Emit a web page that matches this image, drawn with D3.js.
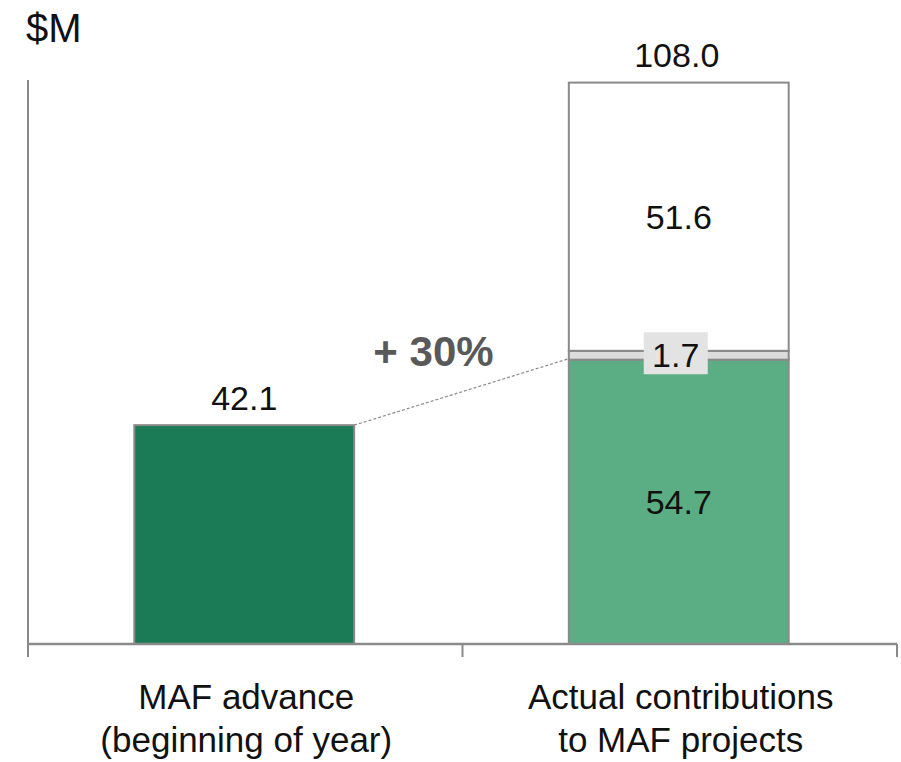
<!DOCTYPE html>
<html>
<head>
<meta charset="utf-8">
<script src="https://cdn.jsdelivr.net/npm/d3@7"></script>
<style>
  html, body { margin: 0; padding: 0; background: #fff; }
  svg { display: block; font-family: "Liberation Sans", Arial, sans-serif; }
</style>
</head>
<body>
<svg id="chart" width="901" height="762"></svg>
<script>
// Categories and their two-line axis labels
const categories = ["advance", "actual"];
const categoryLabels = [
  ["MAF advance", "(beginning of year)"],
  ["Actual contributions", "to MAF projects"]
];

// Single bar: MAF advance
const advanceValue = 42.1;

// Stacked bar: actual contributions, bottom to top
const stackNames = ["core", "other", "rest"];
const stackValues = [54.7, 1.7, 51.6];
const stackTotal = 108.0;

const growthLabel = "+ 30%";
const unitLabel = "$M";

const W = 901, H = 762;
const left = 28, right = 897, baseline = 644, axisTop = 80;

const svg = d3.select("#chart");

const x = d3.scaleBand().domain(categories).range([left, right]).paddingInner(0).paddingOuter(0);
const y = d3.scaleLinear().domain([0, 108.5]).range([baseline, axisTop]);

const barFrac = 0.506;
const barW = x.bandwidth() * barFrac;
const barX = c => x(c) + (x.bandwidth() - barW) / 2 - 1;

const strokeCol = "#8a8a8a";

// Y axis line (no ticks)
svg.append("line")
  .attr("x1", left).attr("x2", left)
  .attr("y1", y.range()[1]).attr("y2", baseline)
  .attr("stroke", strokeCol).attr("stroke-width", 2);

// Advance bar
svg.append("rect")
  .attr("x", barX("advance"))
  .attr("y", y(advanceValue))
  .attr("width", barW)
  .attr("height", baseline - y(advanceValue))
  .attr("fill", "#1a7b56")
  .attr("stroke", strokeCol).attr("stroke-width", 2);

// Stacked bar
const stackFill = { core: "#5bae83", other: "#dcdcdc", rest: "#ffffff" };
const stackData = [];
let acc = 0;
stackValues.forEach((v, i) => { stackData.push({ name: stackNames[i], v, y0: acc, y1: acc + v }); acc += v; });

svg.append("g").selectAll("rect")
  .data(stackData)
  .join("rect")
  .attr("x", barX("actual"))
  .attr("y", d => y(d.y1))
  .attr("width", barW)
  .attr("height", d => y(d.y0) - y(d.y1))
  .attr("fill", d => stackFill[d.name])
  .attr("stroke", strokeCol).attr("stroke-width", 2);

// X axis with boundary ticks
svg.append("line")
  .attr("x1", left).attr("x2", right)
  .attr("y1", baseline).attr("y2", baseline)
  .attr("stroke", strokeCol).attr("stroke-width", 2.5);

const tickXs = categories.map(c => x(c)).concat([x(categories[categories.length - 1]) + x.bandwidth()]);
svg.append("g").selectAll("line")
  .data(tickXs)
  .join("line")
  .attr("x1", d => d).attr("x2", d => d)
  .attr("y1", baseline).attr("y2", baseline + 13)
  .attr("stroke", strokeCol).attr("stroke-width", 2);

// Category labels
categories.forEach((c, i) => {
  const cx = barX(c) + barW / 2 + 2;
  const t = svg.append("text")
    .attr("text-anchor", "middle")
    .attr("font-size", 35)
    .attr("fill", "#111");
  categoryLabels[i].forEach((line, j) => {
    t.append("tspan").attr("x", cx).attr("y", 709 + j * 43).text(line);
  });
});

// Value labels
const fmt = d3.format(".1f");
const cx1 = barX("advance") + barW / 2;
const cx2 = barX("actual") + barW / 2;

svg.append("text")
  .attr("x", cx1).attr("y", y(advanceValue) - 15)
  .attr("text-anchor", "middle").attr("font-size", 34).attr("fill", "#111")
  .text(fmt(advanceValue));

svg.append("text")
  .attr("x", cx2 - 2).attr("y", y(stackTotal) - 16)
  .attr("text-anchor", "middle").attr("font-size", 34).attr("fill", "#111")
  .text(fmt(stackTotal));

// Segment labels: the big segments centered, the thin one in a boxed callout
stackData.forEach(d => {
  const my = (y(d.y0) + y(d.y1)) / 2;
  if (d.name === "other") {
    svg.append("rect")
      .attr("x", cx2 - 35).attr("y", my - 23)
      .attr("width", 64).attr("height", 42)
      .attr("fill", "#e3e3e3");
    svg.append("text")
      .attr("x", cx2 - 3).attr("y", my + 12)
      .attr("text-anchor", "middle").attr("font-size", 34).attr("fill", "#111")
      .text(fmt(d.v));
  } else {
    svg.append("text")
      .attr("x", cx2).attr("y", my + 12)
      .attr("text-anchor", "middle").attr("font-size", 34).attr("fill", "#111")
      .text(fmt(d.v));
  }
});

// Dotted connector from the advance bar to the core segment
const x1 = barX("advance") + barW, x2 = barX("actual");
svg.append("line")
  .attr("x1", x1).attr("y1", y(advanceValue))
  .attr("x2", x2).attr("y2", y(stackValues[0]) - 1)
  .attr("stroke", "#8a8a8a").attr("stroke-width", 1.2)
  .attr("stroke-dasharray", "3,2");

svg.append("text")
  .attr("x", (x1 + x2) / 2 - 28).attr("y", y(stackValues[0]) + 6)
  .attr("text-anchor", "middle")
  .attr("font-size", 42).attr("font-weight", "bold").attr("fill", "#595959")
  .text(growthLabel);

// Unit label
svg.append("text")
  .attr("x", 26).attr("y", 42)
  .attr("font-size", 40).attr("fill", "#111")
  .text(unitLabel);
</script>
</body>
</html>
